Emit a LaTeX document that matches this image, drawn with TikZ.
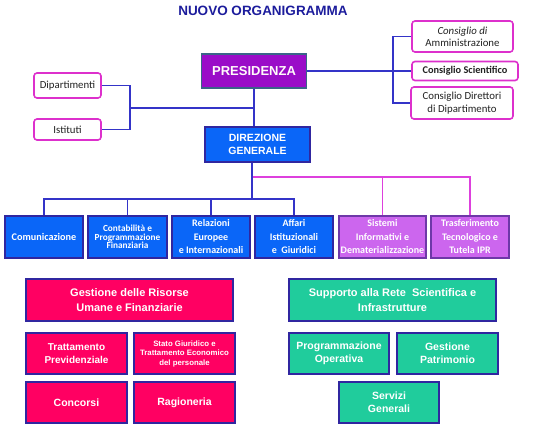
\documentclass[tikz,border=0pt]{standalone}
\usepackage{fontspec}
\setmainfont{Liberation Sans}
\newfontfamily\calib{Carlito}
\usepackage{tikz}
\definecolor{titleblue}{HTML}{1C1C9C}
\definecolor{presviolet}{HTML}{9A0CC8}
\definecolor{presedge}{HTML}{3A6488}
\definecolor{dirblue}{HTML}{0A66F8}
\definecolor{edgeblue}{HTML}{3026A0}
\definecolor{lilac}{HTML}{CC66EE}
\definecolor{lilacedge}{HTML}{6E38A8}
\definecolor{crimson}{HTML}{FF0062}
\definecolor{seagreen}{HTML}{20CC9C}
\definecolor{linkblue}{HTML}{3434C8}
\definecolor{linkpink}{HTML}{DD40DD}
\definecolor{sideedge}{HTML}{DD30CC}
\definecolor{sidetext}{HTML}{222222}

\begin{document}
\begin{tikzpicture}[x=1pt,y=-1pt,
  unit/.style={draw, line width=1.6pt, align=center, text=white, font=\bfseries, inner sep=1pt},
  side/.style={draw=sideedge, rounded corners=3pt, line width=1.6pt, fill=white, align=center, text=sidetext, inner sep=1pt},
  office/.style={unit, fill=dirblue, draw=edgeblue, minimum height=42pt, font=\calib\bfseries\fontsize{10}{13.5}\selectfont},
  lilacoffice/.style={office, fill=lilac, draw=lilacedge},
  redunit/.style={unit, fill=crimson, draw=edgeblue},
  greenunit/.style={unit, fill=seagreen, draw=edgeblue},
  bline/.style={draw=linkblue, line width=1.5pt},
  pline/.style={draw=linkpink, line width=1.5pt}]
  \useasboundingbox (0,0) rectangle (560,433);
  \node[font=\bfseries\fontsize{13.5}{15}\selectfont, text=titleblue] (tit) at (263,11) {NUOVO ORGANIGRAMMA};
  %%%%%%%%%%%%%%%%%%%%%%%%%%%%%%%%
  \node[unit, fill=presviolet, draw=presedge, minimum width=105pt, minimum height=34pt,
        font=\bfseries\fontsize{13}{15}\selectfont, text=white!92!pink] (pres) at (254,71) {PRESIDENZA};
  \node[unit, fill=dirblue, draw=edgeblue, minimum width=105pt, minimum height=35pt,
        font=\bfseries\fontsize{10.5}{13}\selectfont] (dir) at (257.5,144.5) {DIREZIONE\\GENERALE};
  \node[side, minimum width=101pt, minimum height=31pt, font=\calib\fontsize{10.8}{12}\selectfont] (ca) at (462.5,36.5) {\textit{Consiglio di}\\Amministrazione};
  \node[side, minimum width=106pt, minimum height=19pt, font=\calib\bfseries\fontsize{10.3}{11}\selectfont] (cs) at (465,71) {Consiglio Scientifico};
  \node[side, minimum width=102pt, minimum height=32pt, font=\calib\fontsize{10.8}{12.5}\selectfont] (cdd) at (462,103) {Consiglio Direttori\\di Dipartimento};
  \node[side, minimum width=67pt, minimum height=25pt, font=\calib\fontsize{10.8}{12}\selectfont] (dip) at (67.5,85.5) {Dipartimenti};
  \node[side, minimum width=67pt, minimum height=21pt, font=\calib\fontsize{10.8}{12}\selectfont] (ist) at (67.5,129.5) {Istituti};
  %%%%%%%%%%%%%%%%%%%%%%%%%%%%%%%%
  \node[office, minimum width=78pt, font=\calib\bfseries\fontsize{10.2}{12}\selectfont] (com) at (44,237) {Comunicazione};
  \node[office, minimum width=79pt, font=\calib\bfseries\fontsize{9.3}{8.6}\selectfont] (cont) at (127.5,237) {Contabilità e\\Programmazione\\Finanziaria};
  \node[office, minimum width=78pt] (rel) at (211,237) {Relazioni\\Europee\\e Internazionali};
  \node[office, minimum width=78pt] (aff) at (294,237) {Affari\\Istituzionali\\e\ \ Giuridici};
  \node[lilacoffice, minimum width=87pt] (sis) at (382.5,237) {Sistemi\\Informativi e\\Dematerializzazione};
  \node[lilacoffice, minimum width=78pt] (tra) at (470,237) {Trasferimento\\Tecnologico e\\Tutela IPR};
  %%%%%%%%%%%%%%%%%%%%%%%%%%%%%%%%
  \node[redunit, minimum width=207pt, minimum height=42pt, font=\bfseries\fontsize{11}{15}\selectfont] (gru) at (129.5,300) {Gestione delle Risorse\\Umane e Finanziarie};
  \node[redunit, minimum width=101pt, minimum height=41pt, font=\bfseries\fontsize{10}{13.5}\selectfont] (tp) at (76.5,353.5) {Trattamento\\Previdenziale};
  \node[redunit, minimum width=101pt, minimum height=41pt, font=\bfseries\fontsize{7.8}{9.5}\selectfont] (sg) at (184.5,353.5) {Stato Giuridico e\\Trattamento Economico\\del personale};
  \node[redunit, minimum width=101pt, minimum height=41pt, font=\bfseries\fontsize{10.5}{13}\selectfont] (conc) at (76.5,402.5) {Concorsi};
  \node[redunit, minimum width=101pt, minimum height=41pt, font=\bfseries\fontsize{10.5}{13}\selectfont] (rag) at (184.5,402.5) {Ragioneria};
  \node[greenunit, minimum width=207pt, minimum height=42pt, font=\bfseries\fontsize{11}{15}\selectfont] (sup) at (392.5,300) {Supporto alla Rete\ \ Scientifica e\\Infrastrutture};
  \node[greenunit, minimum width=100pt, minimum height=41pt, font=\bfseries\fontsize{10.5}{13}\selectfont] (po) at (339,353.5) {Programmazione\\Operativa};
  \node[greenunit, minimum width=101pt, minimum height=41pt, font=\bfseries\fontsize{10.5}{13}\selectfont] (gp) at (447.5,353.5) {Gestione\\Patrimonio};
  \node[greenunit, minimum width=100pt, minimum height=41pt, font=\bfseries\fontsize{10.5}{13}\selectfont] (sgen) at (389,402.5) {Servizi\\Generali};
  %%%%%%%%%%%%%%%%%%%%%%%%%%%%%%%%
  \coordinate (rbar) at (393,71);
  \coordinate (lbar) at (130,108);
  \coordinate (bbar) at (252,199);
  \coordinate (pbar) at (252,177);
  \draw[bline] (pres.east) -- (cs.west);
  \draw[bline] (ca.west) -| (rbar) |- (cdd.west);
  \draw[bline] (dip.east) -| (lbar) |- (ist.east);
  \draw[bline] (lbar) -- (lbar -| pres.south);
  \draw[bline] (pres.south) -- (pres.south |- dir.north);
  \draw[pline] (pbar) -| (tra.north);
  \draw[pline] (sis.north) -- (sis.north |- pbar);
  \draw[bline] (dir.south -| bbar) -- (bbar);
  \draw[bline] (com.north) |- (bbar) -| (aff.north);
  \foreach \n in {cont,rel}
    \draw[bline] (\n.north) -- (\n.north |- bbar);
\end{tikzpicture}
\end{document}
